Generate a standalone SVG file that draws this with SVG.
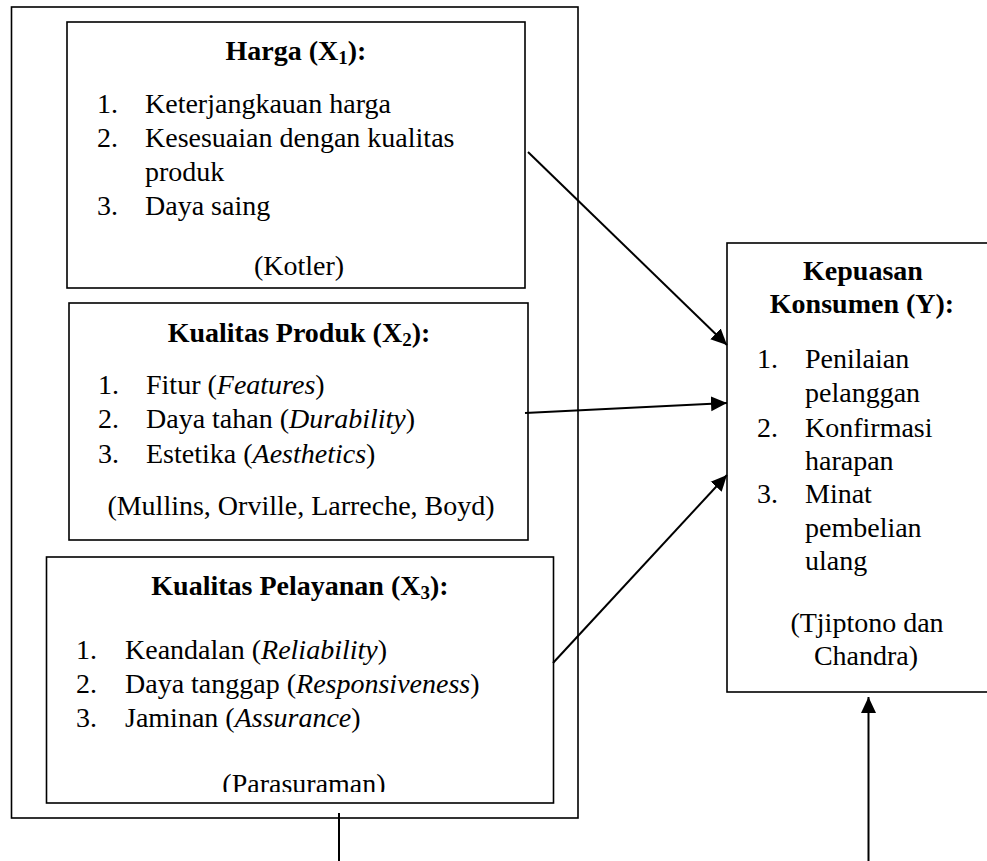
<svg xmlns="http://www.w3.org/2000/svg" width="987" height="861" viewBox="0 0 987 861">
<style>
text{font-family:"Liberation Serif","Times New Roman",serif;font-size:28px;fill:#000}
.b{font-weight:bold}
.c{text-anchor:middle}
.box{fill:none;stroke:#000;stroke-width:1.6}
.con{fill:none;stroke:#000;stroke-width:2}
.i{font-style:italic}
</style>
<defs>
<marker id="ah" markerUnits="userSpaceOnUse" markerWidth="16" markerHeight="16" refX="16" refY="8" orient="auto">
<path d="M0,0.5 L16,8 L0,15.5 z" fill="#000"/>
</marker>
<clipPath id="clip3"><rect x="46" y="557" width="508" height="235"/></clipPath>
</defs>
<rect width="987" height="861" fill="#fff"/>
<g id="outer"><rect class="box" x="11.5" y="7" width="566.5" height="811"/></g>
<g id="harga">
<rect class="box" x="67" y="22" width="458" height="266"/>
<text class="b c" x="296" y="60">Harga (X<tspan font-size="19" dy="4">1</tspan><tspan dy="-4">):</tspan></text>
<text x="97" y="113">1.</text><text x="145" y="113">Keterjangkauan harga</text>
<text x="97" y="147">2.</text><text x="145" y="147">Kesesuaian dengan kualitas</text>
<text x="145" y="181">produk</text>
<text x="97" y="215">3.</text><text x="145" y="215">Daya saing</text>
<text class="c" x="299" y="275">(Kotler)</text>
</g>
<g id="produk">
<rect class="box" x="69" y="303" width="459" height="237"/>
<text class="b c" x="299" y="342">Kualitas Produk (X<tspan font-size="19" dy="4">2</tspan><tspan dy="-4">):</tspan></text>
<text x="98" y="394">1.</text><text x="146" y="394">Fitur (<tspan class="i">Features</tspan>)</text>
<text x="98" y="428">2.</text><text x="146" y="428">Daya tahan (<tspan class="i">Durability</tspan>)</text>
<text x="98" y="463">3.</text><text x="146" y="463">Estetika (<tspan class="i">Aesthetics</tspan>)</text>
<text class="c" x="301" y="515">(Mullins, Orville, Larreche, Boyd)</text>
</g>
<g id="pelayanan">
<rect class="box" x="46.5" y="557" width="507" height="246"/>
<text class="b c" x="300" y="595">Kualitas Pelayanan (X<tspan font-size="19" dy="4">3</tspan><tspan dy="-4">):</tspan></text>
<text x="76" y="659">1.</text><text x="125" y="659">Keandalan (<tspan class="i">Reliability</tspan>)</text>
<text x="76" y="693">2.</text><text x="125" y="693">Daya tanggap (<tspan class="i">Responsiveness</tspan>)</text>
<text x="76" y="727">3.</text><text x="125" y="727">Jaminan (<tspan class="i">Assurance</tspan>)</text>
<text class="c" x="304" y="793" clip-path="url(#clip3)">(Parasuraman)</text>
</g>
<g id="kepuasan">
<rect class="box" x="727" y="243" width="280" height="449"/>
<text class="b c" x="863" y="280">Kepuasan</text>
<text class="b c" x="862" y="313">Konsumen (Y):</text>
<text x="757" y="368">1.</text><text x="805" y="368">Penilaian</text>
<text x="805" y="402">pelanggan</text>
<text x="757" y="437">2.</text><text x="805" y="437">Konfirmasi</text>
<text x="805" y="470">harapan</text>
<text x="757" y="503">3.</text><text x="805" y="503">Minat</text>
<text x="805" y="537">pembelian</text>
<text x="805" y="570">ulang</text>
<text class="c" x="867" y="632">(Tjiptono dan</text>
<text class="c" x="866" y="665">Chandra)</text>
</g>
<g id="connectors">
<line class="con" x1="528" y1="152" x2="727" y2="345" marker-end="url(#ah)"/>
<line class="con" x1="525" y1="413" x2="727" y2="403" marker-end="url(#ah)"/>
<line class="con" x1="553" y1="663" x2="727" y2="475" marker-end="url(#ah)"/>
<line class="con" x1="868.5" y1="861" x2="868.5" y2="697" marker-end="url(#ah)"/>
<line class="con" x1="339" y1="813" x2="339" y2="861"/>
</g>
</svg>
